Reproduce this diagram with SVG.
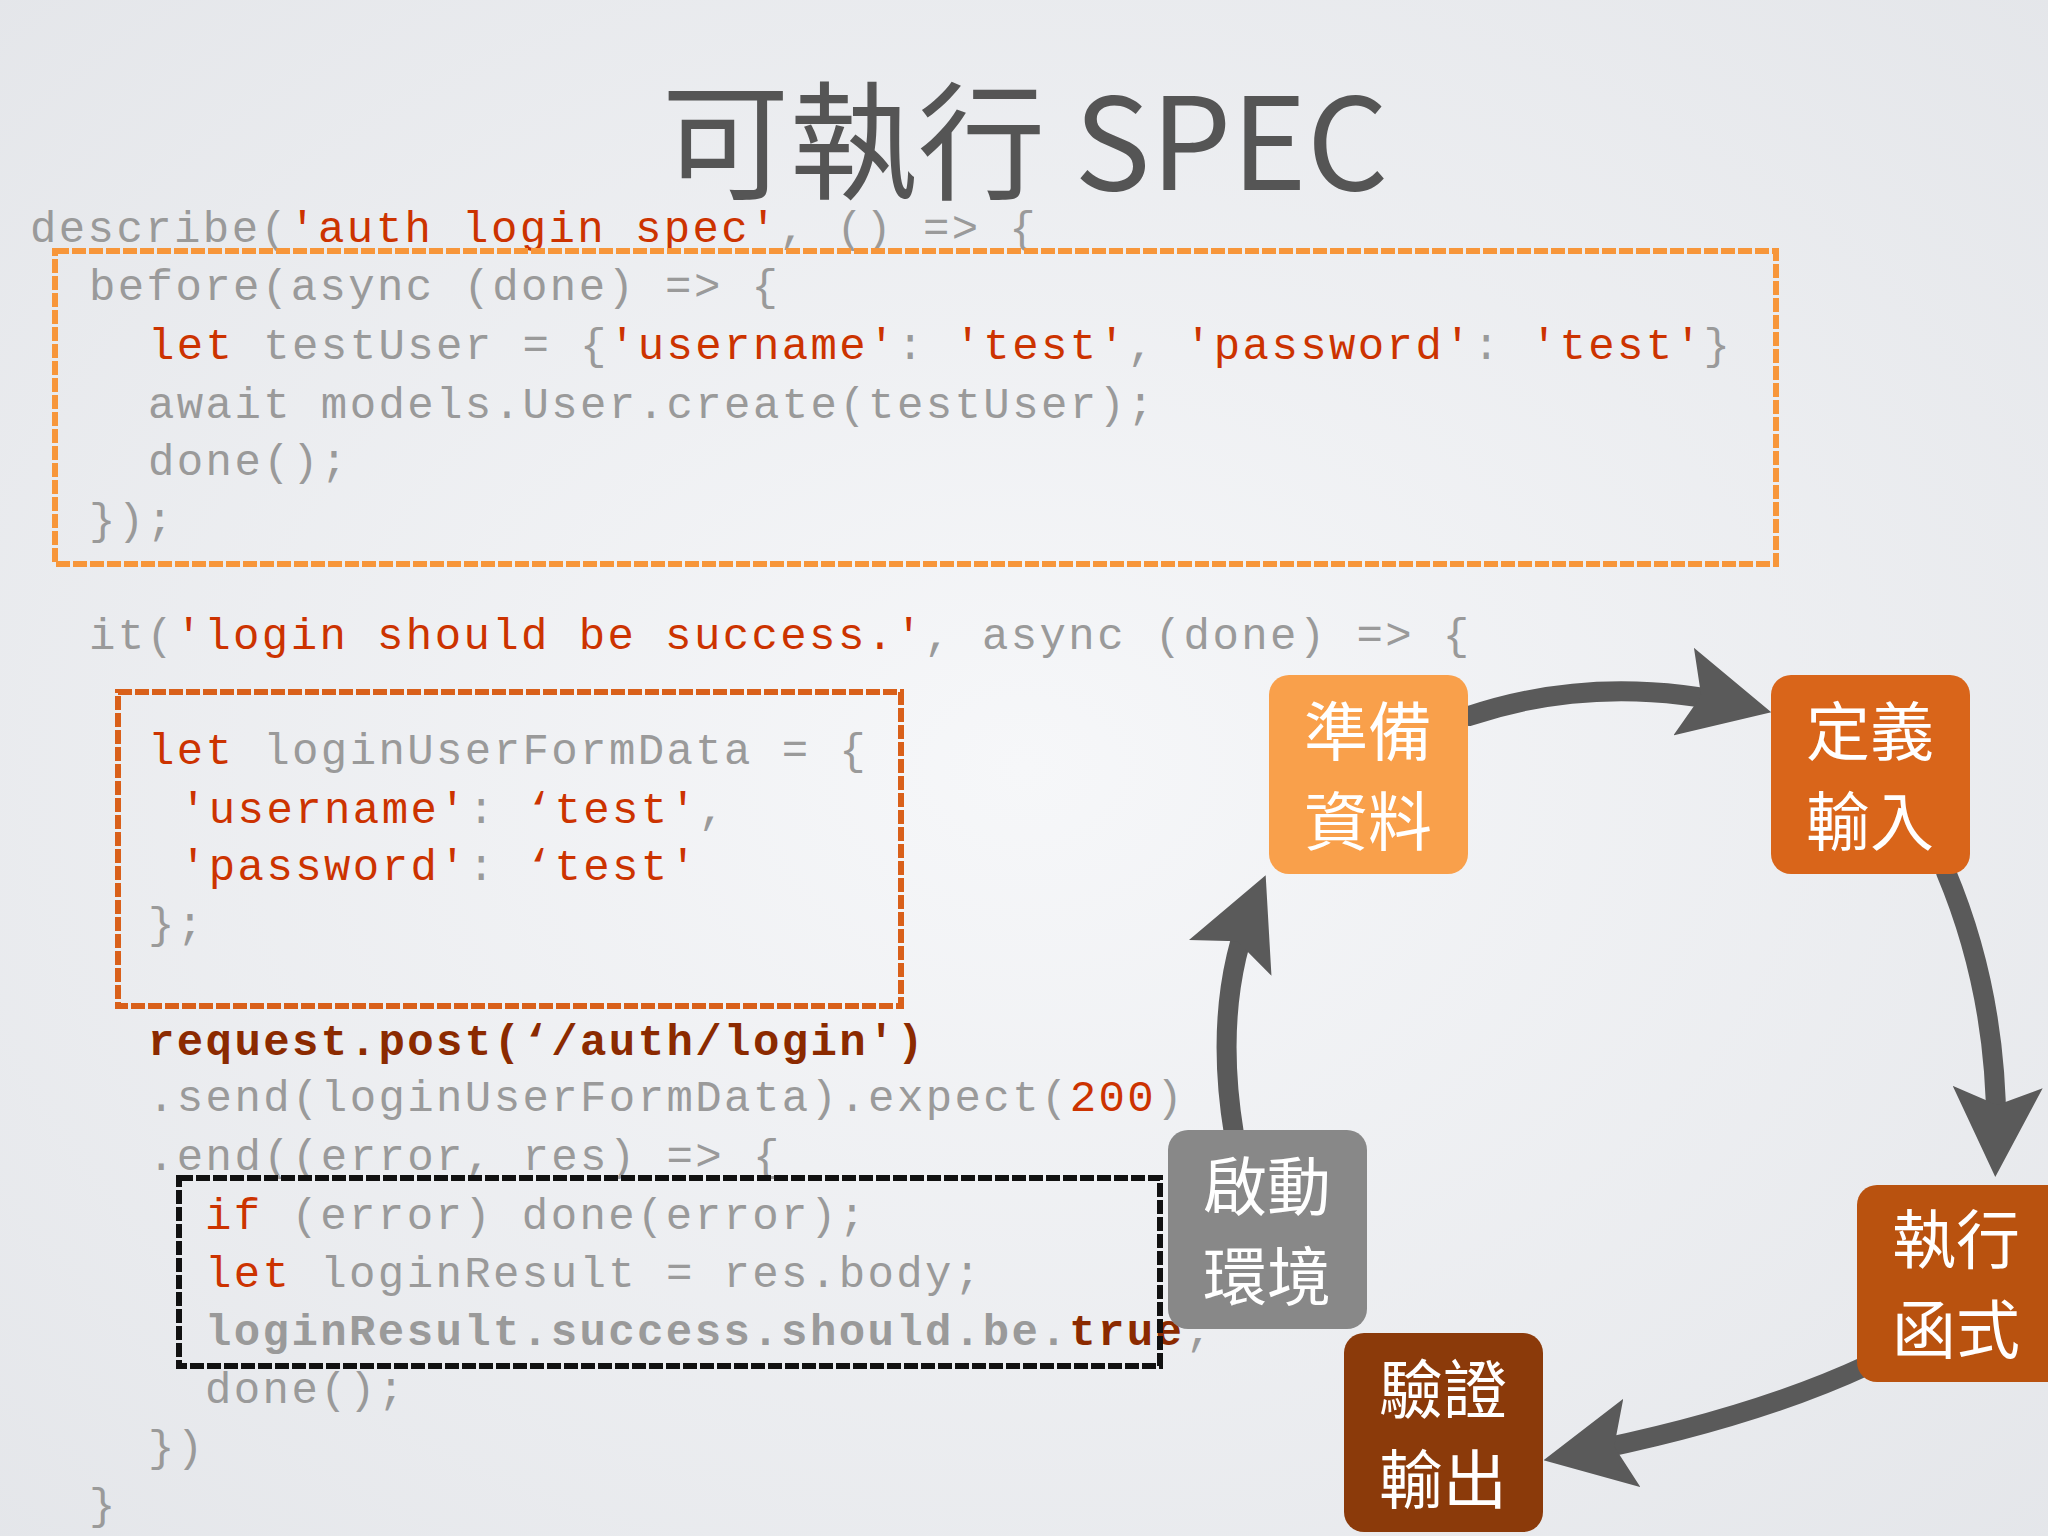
<svg xmlns="http://www.w3.org/2000/svg" width="2048" height="1536" viewBox="0 0 2048 1536">
<defs>
<radialGradient id="bg" cx="0.5" cy="0.5" r="0.8"><stop offset="0" stop-color="#f6f7f9"/><stop offset="1" stop-color="#e2e4e8"/></radialGradient>
<marker id="ah" viewBox="0 0 10 10" refX="7" refY="5" markerWidth="4.5" markerHeight="4.5" orient="auto" markerUnits="strokeWidth"><path d="M0,0 L10,5 L0,10 L2,5 z" fill="#5a5a5a"/></marker>
<style>
.c{font-family:"Liberation Mono","DejaVu Sans Mono",monospace;font-size:44px;fill:#9a9a9a;letter-spacing:2.4px}
.s{fill:#cc3300}
.b{font-weight:bold;fill:#8b2a00}
.n{font-family:"Noto Sans CJK TC","Noto Sans CJK SC",sans-serif;font-size:64px;fill:#fff;text-anchor:middle}
.box{fill:none;stroke-width:6;stroke-dasharray:14 3}
.arr{fill:none;stroke:#5a5a5a;stroke-width:20;stroke-linecap:round;marker-end:url(#ah)}
</style>
</defs>
<rect width="2048" height="1536" fill="url(#bg)"/>
<text x="1025" y="190" text-anchor="middle" font-family="Noto Sans CJK TC, Noto Sans CJK SC, sans-serif" font-size="128" fill="#555">可執行 SPEC</text>
<g id="code" class="c">
<text x="30" y="242">describe(<tspan class="s">'auth login spec'</tspan>, () =&gt; {</text>
<text x="89" y="300">before(async (done) =&gt; {</text>
<text x="148" y="359"><tspan class="s">let</tspan> testUser = {<tspan class="s">'username'</tspan>: <tspan class="s">'test'</tspan>, <tspan class="s">'password'</tspan>: <tspan class="s">'test'</tspan>}</text>
<text x="148" y="418">await models.User.create(testUser);</text>
<text x="148" y="475">done();</text>
<text x="89" y="534">});</text>
<text x="89" y="649">it(<tspan class="s">'login should be success.'</tspan>, async (done) =&gt; {</text>
<text x="148" y="764"><tspan class="s">let</tspan> loginUserFormData = {</text>
<text x="180" y="823"><tspan class="s">'username'</tspan>: <tspan class="s">‘test'</tspan>,</text>
<text x="180" y="880"><tspan class="s">'password'</tspan>: <tspan class="s">‘test'</tspan></text>
<text x="148" y="938">};</text>
<text x="148" y="1055" class="b">request.post(‘/auth/login')</text>
<text x="148" y="1111">.send(loginUserFormData).expect(<tspan class="s">200</tspan>)</text>
<text x="148" y="1170">.end((error, res) =&gt; {</text>
<text x="205" y="1229"><tspan class="s">if</tspan> (error) done(error);</text>
<text x="205" y="1287"><tspan class="s">let</tspan> loginResult = res.body;</text>
<text x="205" y="1345"><tspan font-weight="bold">loginResult.success.should.be.</tspan><tspan class="b" fill="#cc3300">true</tspan>;</text>
<text x="205" y="1403">done();</text>
<text x="148" y="1461">})</text>
<text x="89" y="1519">}</text>
</g>
<g id="boxes">
<rect class="box" x="55" y="251" width="1721" height="313" stroke="#f7963a"/>
<rect class="box" x="118" y="692" width="783" height="314" stroke="#d9601a"/>
<rect class="box" x="179" y="1178" width="981" height="188" stroke="#111"/>
</g>
<g id="connectors">
<path class="arr" d="M1469,716 Q1600,672 1745,706"/>
<path class="arr" d="M1946,872 Q2000,1000 1996,1150"/>
<path class="arr" d="M1868,1365 Q1750,1420 1570,1455"/>
<path class="arr" d="M1234,1134 Q1212,1000 1255,900"/>
</g>
<g id="n1"><rect x="1269" y="675" width="199" height="199" rx="20" fill="#f9a04b"/><text class="n" x="1368" y="755">準備</text><text class="n" x="1368" y="845">資料</text></g>
<g id="n2"><rect x="1771" y="675" width="199" height="199" rx="20" fill="#d9651a"/><text class="n" x="1870" y="755">定義</text><text class="n" x="1870" y="845">輸入</text></g>
<g id="n3"><rect x="1857" y="1185" width="210" height="197" rx="20" fill="#b9520f"/><text class="n" x="1956" y="1263">執行</text><text class="n" x="1956" y="1353">函式</text></g>
<g id="n4"><rect x="1344" y="1333" width="199" height="199" rx="20" fill="#8b3a0a"/><text class="n" x="1443" y="1413">驗證</text><text class="n" x="1443" y="1503">輸出</text></g>
<g id="n5"><rect x="1168" y="1130" width="199" height="199" rx="20" fill="#888"/><text class="n" x="1267" y="1210">啟動</text><text class="n" x="1267" y="1300">環境</text></g>
</svg>
